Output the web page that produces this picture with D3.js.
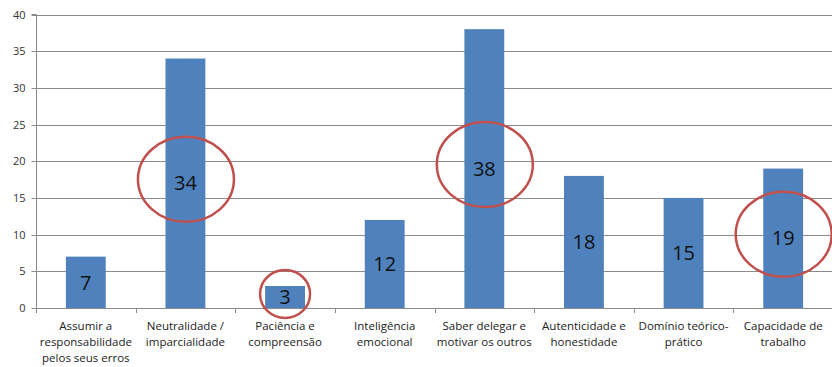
<!DOCTYPE html>
<html>
<head>
<meta charset="utf-8">
<script src="https://cdn.jsdelivr.net/npm/d3@7"></script>
<style>
  html, body { margin: 0; padding: 0; background: #fff; }
  svg { display: block; font-family: "Open Sans", "Liberation Sans", sans-serif; }
</style>
</head>
<body>
<svg id="chart" width="832" height="367"></svg>
<script>
// Categories (each label split into its display lines)
const categories = [
  ["Assumir a", "responsabilidade", "pelos seus erros"],
  ["Neutralidade /", "imparcialidade"],
  ["Paciência e", "compreensão"],
  ["Inteligência", "emocional"],
  ["Saber delegar e", "motivar os outros"],
  ["Autenticidade e", "honestidade"],
  ["Domínio teórico-", "prático"],
  ["Capacidade de", "trabalho"]
];
const values = [7, 34, 3, 12, 38, 18, 15, 19];
const yTicks = [0, 5, 10, 15, 20, 25, 30, 35, 40];
// Indices of the bars circled in red
const highlighted = [1, 2, 4, 7];

const svg = d3.select("#chart");
const plotLeft = 36, plotRight = 833, plotTop = 14.5, plotBottom = 308;

const x = d3.scaleBand()
  .domain(d3.range(categories.length))
  .range([plotLeft, plotRight])
  .paddingInner(0.6)
  .paddingOuter(0.3);
const band = d3.scaleBand().domain(d3.range(categories.length)).range([plotLeft, plotRight]);

const y = d3.scaleLinear().domain([0, 40]).range([plotBottom, plotTop]);

// Horizontal gridlines
svg.append("g")
  .selectAll("line")
  .data(yTicks.filter(d => d > 0))
  .join("line")
  .attr("x1", plotLeft).attr("x2", plotRight)
  .attr("y1", d => Math.round(y(d)) + 0.5).attr("y2", d => Math.round(y(d)) + 0.5)
  .attr("stroke", "#8c8c8c").attr("stroke-width", 1);

// Y axis
const yAxis = svg.append("g")
  .attr("transform", `translate(${plotLeft + 0.5},0)`)
  .call(d3.axisLeft(y).tickValues(yTicks).tickSize(5).tickPadding(6));
yAxis.select(".domain").attr("stroke", "#8c8c8c").attr("d", `M-5,${plotTop}H0V${plotBottom}`);
yAxis.selectAll(".tick line").attr("stroke", "#8c8c8c");
yAxis.selectAll(".tick text").attr("fill", "#333").style("font-size", "11px")
  .attr("font-family", "'Open Sans', 'Liberation Sans', sans-serif");
yAxis.selectAll(".tick").attr("transform", d => `translate(0,${Math.round(y(d)) + 0.5})`);

// Bars
svg.append("g")
  .selectAll("rect")
  .data(values)
  .join("rect")
  .attr("x", (d, i) => x(i))
  .attr("width", x.bandwidth())
  .attr("y", d => y(d))
  .attr("height", d => y(0) - y(d))
  .attr("fill", "#4f81bd");

// X axis line and category ticks
const xg = svg.append("g");
xg.append("line")
  .attr("x1", plotLeft).attr("x2", plotRight)
  .attr("y1", plotBottom + 0.5).attr("y2", plotBottom + 0.5)
  .attr("stroke", "#8c8c8c");
xg.selectAll("line.tick")
  .data(d3.range(categories.length + 1))
  .join("line")
  .attr("class", "tick")
  .attr("x1", i => Math.round(plotLeft + i * band.bandwidth()) + 0.5)
  .attr("x2", i => Math.round(plotLeft + i * band.bandwidth()) + 0.5)
  .attr("y1", plotBottom).attr("y2", plotBottom + 5)
  .attr("stroke", "#8c8c8c");

// Category labels
const labels = svg.append("g")
  .selectAll("text")
  .data(categories)
  .join("text")
  .attr("x", (d, i) => band(i) + band.bandwidth() / 2)
  .attr("y", 330)
  .attr("text-anchor", "middle")
  .attr("fill", "#222")
  .style("font-size", "11.5px");
labels.selectAll("tspan")
  .data(d => d)
  .join("tspan")
  .attr("x", function () { return this.parentNode.getAttribute("x"); })
  .attr("dy", (d, i) => i === 0 ? 0 : 16)
  .text(d => d);

// Value labels centred in each bar
svg.append("g")
  .selectAll("text")
  .data(values)
  .join("text")
  .attr("x", (d, i) => x(i) + x.bandwidth() / 2)
  .attr("y", d => y(d / 2))
  .attr("dy", "0.36em")
  .attr("text-anchor", "middle")
  .attr("fill", "#111")
  .style("font-size", "20px")
  .text(d => d);

// Red ellipses around the highlighted values
svg.append("g")
  .selectAll("ellipse")
  .data(highlighted)
  .join("ellipse")
  .attr("cx", i => x(i) + x.bandwidth() / 2 + (values[i] < 5 ? 0 : 0.5))
  .attr("cy", i => values[i] < 5 ? y(values[i] / 2) - 3 : y(values[i] / 2) - 4)
  .attr("rx", i => values[i] < 5 ? 25 : 48)
  .attr("ry", i => values[i] < 5 ? 24 : 42.5)
  .attr("fill", "none")
  .attr("stroke", "#c0504d")
  .attr("stroke-width", 2.5);
</script>
</body>
</html>
